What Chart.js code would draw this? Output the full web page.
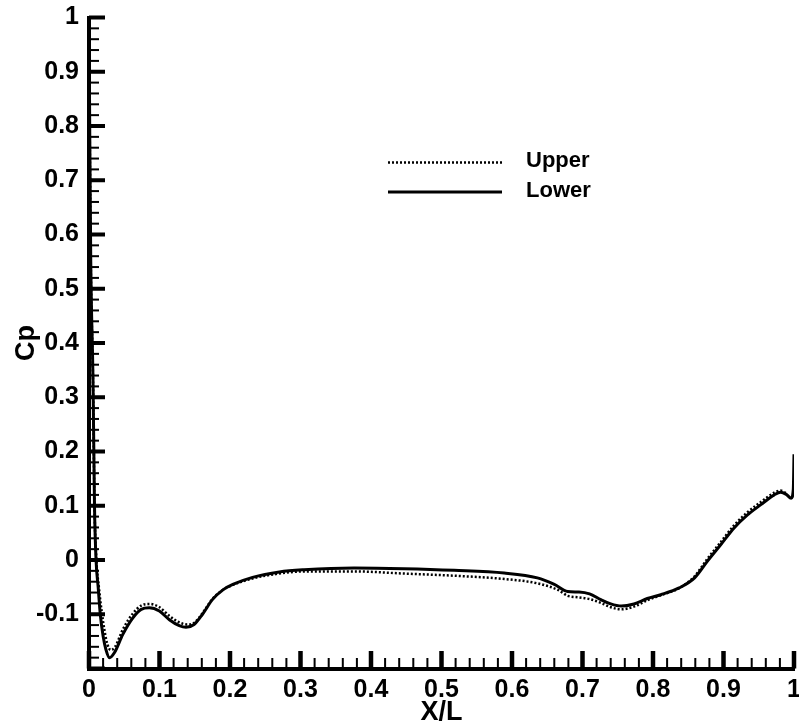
<!DOCTYPE html>
<html>
<head>
<meta charset="utf-8">
<title>Cp vs X/L</title>
<script src="https://cdn.jsdelivr.net/npm/chart.js@4.4.0/dist/chart.umd.min.js"></script>
<style>
    html, body { margin: 0; padding: 0; background: #fff; }
</style>
</head>
<body>
<canvas id="cpChart" width="799" height="726"></canvas>
<script>
// surface pressure coefficient along the body, upper and lower side
const upperX = [0, 0.001, 0.0025, 0.0057, 0.0078, 0.0105, 0.014, 0.018, 0.022, 0.026, 0.031, 0.037,
    0.048, 0.062, 0.074, 0.086, 0.1, 0.114, 0.128, 0.14, 0.15, 0.161, 0.175, 0.19, 0.204, 0.232,
    0.27, 0.305, 0.376, 0.447, 0.518, 0.589, 0.636, 0.665, 0.679, 0.695, 0.71, 0.726, 0.74, 0.755,
    0.773, 0.792, 0.811, 0.837, 0.859, 0.877, 0.896, 0.915, 0.934, 0.953, 0.972, 0.981, 0.99];
const upperCp = [1.0, 0.8, 0.55, 0.33, 0.1, 0.0, -0.05, -0.095, -0.13, -0.155, -0.166, -0.16,
    -0.128, -0.099, -0.084, -0.081, -0.087, -0.103, -0.115, -0.119, -0.115, -0.098, -0.072, -0.055, -0.046, -0.034,
    -0.025, -0.021, -0.021, -0.025, -0.029, -0.035, -0.043, -0.055, -0.066, -0.069, -0.072, -0.079, -0.087, -0.091,
    -0.086, -0.074, -0.065, -0.052, -0.03, 0.002, 0.033, 0.064, 0.088, 0.107, 0.124, 0.128, 0.122];

const lowerX = [0, 0.001, 0.0025, 0.0057, 0.0078, 0.01, 0.013, 0.016, 0.02, 0.024, 0.029, 0.036,
    0.048, 0.062, 0.074, 0.0855, 0.0998, 0.114, 0.128, 0.1376, 0.149, 0.161, 0.175, 0.19, 0.204, 0.232,
    0.27, 0.305, 0.376, 0.447, 0.518, 0.589, 0.636, 0.66, 0.679, 0.695, 0.71, 0.726, 0.74, 0.755,
    0.773, 0.792, 0.811, 0.837, 0.859, 0.877, 0.896, 0.915, 0.934, 0.953, 0.972, 0.981, 0.989,
    0.996, 0.999, 1.0];
const lowerCp = [1.0, 0.8, 0.55, 0.33, 0.1, 0.0, -0.05, -0.1, -0.14, -0.165, -0.18, -0.171,
    -0.137, -0.107, -0.091, -0.088, -0.094, -0.11, -0.121, -0.124, -0.119, -0.1, -0.073, -0.055, -0.045, -0.032,
    -0.022, -0.018, -0.0147, -0.016, -0.019, -0.024, -0.033, -0.045, -0.058, -0.059, -0.0625, -0.073, -0.081, -0.085,
    -0.081, -0.071, -0.064, -0.0515, -0.033, -0.0025, 0.028, 0.059, 0.083, 0.102, 0.12, 0.125, 0.121,
    0.114, 0.13, 0.195];

const xTicks = [0, 0.1, 0.2, 0.3, 0.4, 0.5, 0.6, 0.7, 0.8, 0.9, 1];
const yTicks = [-0.1, 0, 0.1, 0.2, 0.3, 0.4, 0.5, 0.6, 0.7, 0.8, 0.9, 1];

const FONT = "'Liberation Sans', Arial, Helvetica, sans-serif";

function toPoints(xs, ys) {
    return xs.map((x, i) => ({ x: x, y: ys[i] }));
}

function tickLabel(v) {
    return String(Math.round(v * 10) / 10);
}

// major and minor tick marks drawn on the inside of the axes
const innerTicks = {
    id: 'innerTicks',
    afterDraw(chart) {
        const ctx = chart.ctx;
        const xs = chart.scales.x;
        const ys = chart.scales.y;
        const area = chart.chartArea;
        ctx.save();
        ctx.fillStyle = '#000';
        for (let i = 0; i <= 50; i++) {
            const v = i * 0.02;
            const major = i % 5 === 0;
            const px = xs.getPixelForValue(v);
            const len = major ? 17.5 : 10.5;
            const w = major ? 4.5 : 2;
            ctx.fillRect(px - w / 2, area.bottom - len, w, len);
        }
        for (let i = 0; i <= 60; i++) {
            const v = -0.2 + i * 0.02;
            const major = i % 5 === 0;
            const py = ys.getPixelForValue(v);
            const len = major ? 16 : 10;
            const h = major ? 4 : 2;
            ctx.fillRect(area.left, py - h / 2, len, h);
        }
        ctx.restore();
    }
};

// line samples and names placed inside the plot
const insideLegend = {
    id: 'insideLegend',
    afterDraw(chart) {
        const ctx = chart.ctx;
        const rows = [{ y: 162.5, ty: 161 }, { y: 192, ty: 191 }];
        ctx.save();
        chart.data.datasets.forEach((ds, i) => {
            ctx.beginPath();
            ctx.strokeStyle = ds.borderColor;
            ctx.lineWidth = ds.borderWidth;
            ctx.setLineDash(ds.borderDash || []);
            ctx.moveTo(388, rows[i].y);
            ctx.lineTo(502, rows[i].y);
            ctx.stroke();
            ctx.setLineDash([]);
            ctx.fillStyle = '#000';
            ctx.font = 'bold 22px ' + FONT;
            ctx.textAlign = 'left';
            ctx.textBaseline = 'middle';
            ctx.fillText(ds.label, 526, rows[i].ty);
        });
        ctx.restore();
    }
};

const data = {
    datasets: [
        {
            label: 'Upper',
            data: toPoints(upperX, upperCp),
            borderColor: '#000',
            borderWidth: 2.5,
            borderDash: [2, 2],
            pointRadius: 0,
            cubicInterpolationMode: 'monotone',
            fill: false
        },
        {
            label: 'Lower',
            data: toPoints(lowerX, lowerCp),
            borderColor: '#000',
            borderWidth: 3,
            pointRadius: 0,
            cubicInterpolationMode: 'monotone',
            fill: false
        }
    ]
};

const config = {
    type: 'line',
    data: data,
    options: {
        responsive: false,
        animation: false,
        devicePixelRatio: 1,
        layout: { padding: { top: 17.5, right: 5, bottom: 0, left: 0 } },
        plugins: {
            legend: { display: false },
            tooltip: { enabled: false }
        },
        scales: {
            x: {
                type: 'linear',
                min: 0,
                max: 1,
                afterBuildTicks: s => { s.ticks = xTicks.map(v => ({ value: v })); },
                afterFit: s => { s.height = 57.5; s.paddingLeft = 0; s.paddingRight = 0; },
                grid: { display: false, drawTicks: false, tickLength: 0 },
                border: { display: true, width: 4, color: '#000' },
                ticks: {
                    padding: 7,
                    color: '#000',
                    maxRotation: 0,
                    autoSkip: false,
                    font: { family: FONT, size: 25, weight: 'bold' },
                    callback: v => tickLabel(v)
                },
                title: {
                    display: true,
                    text: 'X/L',
                    color: '#000',
                    padding: { top: 0, bottom: 0 },
                    font: { family: FONT, size: 27, weight: 'bold', lineHeight: 1 }
                }
            },
            y: {
                type: 'linear',
                min: -0.2,
                max: 1,
                afterBuildTicks: s => { s.ticks = yTicks.map(v => ({ value: v })); },
                afterFit: s => { s.width = 89; s.paddingTop = 0; s.paddingBottom = 0; },
                grid: { display: false, drawTicks: false, tickLength: 0 },
                border: { display: true, width: 4, color: '#000' },
                ticks: {
                    padding: 10,
                    color: '#000',
                    autoSkip: false,
                    font: { family: FONT, size: 25, weight: 'bold' },
                    callback: v => tickLabel(v)
                },
                title: {
                    display: true,
                    text: 'Cp',
                    color: '#000',
                    padding: { top: 13, bottom: 0 },
                    font: { family: FONT, size: 27, weight: 'bold', lineHeight: 1 }
                }
            }
        }
    },
    plugins: [innerTicks, insideLegend]
};

const cpChart = new Chart(document.getElementById('cpChart'), config);
</script>
</body>
</html>
